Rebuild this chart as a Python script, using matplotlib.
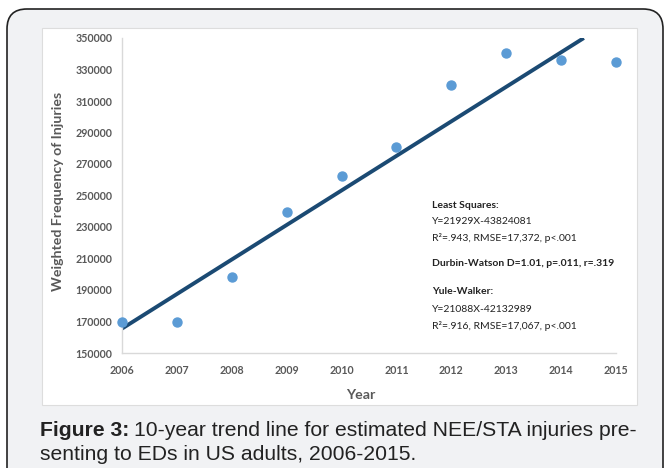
import matplotlib
matplotlib.use("Agg")
import matplotlib.pyplot as plt
from matplotlib.patches import FancyBboxPatch, Rectangle

# data
years = [2006, 2007, 2008, 2009, 2010, 2011, 2012, 2013, 2014, 2015]
injuries = [170000, 170000, 198500, 239500, 262500, 281000, 320000, 340300, 336000, 335000]
yticks = [150000, 170000, 190000, 210000, 230000, 250000, 270000, 290000, 310000, 330000, 350000]
slope = 21929
intercept = -43824081

W, H = 664, 468
fig = plt.figure(figsize=(W / 100, H / 100), dpi=100)
fig.patch.set_facecolor("white")

def fx(px):
    return px / W

def fy(py):
    return 1 - py / H

# outer rounded panel
box = FancyBboxPatch((fx(7), fy(490)), fx(656), (490 - 9) / H,
                     boxstyle="round,pad=0,rounding_size=0.03",
                     transform=fig.transFigure, facecolor="#f1f2f4",
                     edgecolor="#222222", linewidth=1.2, mutation_aspect=W / H,
                     zorder=-10)
fig.patches.append(box)
# white chart area
fig.patches.append(Rectangle((fx(42), fy(405)), fx(637 - 42), (405 - 28) / H,
                             transform=fig.transFigure, facecolor="white",
                             edgecolor="#dddddd", linewidth=0.8, zorder=-9))

ax = fig.add_axes([fx(122), fy(353), fx(616 - 122), (353 - 38) / H])
ax.set_facecolor("white")

# trend line from least squares equation, clipped at top of axis
x0, x1 = 2006, (350000 - intercept) / slope
ax.plot([x0, x1], [slope * x0 + intercept, slope * x1 + intercept],
        color="#1b4a73", linewidth=2.8, solid_capstyle="butt", zorder=2)
ax.scatter(years, injuries, s=42, color="#5b9bd5", zorder=3, clip_on=False)

ax.set_xlim(2006, 2015)
ax.set_ylim(150000, 350000)
ax.set_xticks(years)
ax.set_yticks(yticks)
tick_font = dict(family=["Lato", "DejaVu Sans"], size=7.7, weight="bold", color="#595959")
ax.set_xticklabels([str(y) for y in years], **tick_font)
ax.set_yticklabels([str(v) for v in yticks], **tick_font)
ax.tick_params(length=0, pad=7)
ax.tick_params(axis="x", pad=9)
for s in ["top", "right"]:
    ax.spines[s].set_visible(False)
for s in ["left", "bottom"]:
    ax.spines[s].set_color("#d9d9d9")
    ax.spines[s].set_linewidth(1.0)

lab_font = dict(family=["Lato", "DejaVu Sans"], size=10.2, weight="bold", color="#595959")
fig.text(fx(58), fy(191), "Weighted Frequency of Injuries", rotation=90,
         ha="center", va="center", **lab_font)
fig.text(fx(361), fy(395), "Year", ha="center", va="center", **lab_font)

# annotation block
ann = dict(family=["Lato", "DejaVu Sans"], size=7.5, color="#222222")
tx = fx(432)
fig.text(tx, fy(205), "Least Squares:", va="center", weight="bold", **ann)
fig.text(tx, fy(221), "Y=21929X-43824081", va="center", **ann)
fig.text(tx, fy(238), "R\u00b2=.943, RMSE=17,372, p<.001", va="center", **ann)
fig.text(tx, fy(263), "Durbin-Watson D=1.01, p=.011, r=.319", va="center", weight="bold", **ann)
fig.text(tx, fy(292), "Yule-Walker:", va="center", weight="bold", **ann)
fig.text(tx, fy(309), "Y=21088X-42132989", va="center", **ann)
fig.text(tx, fy(326), "R\u00b2=.916, RMSE=17,067, p<.001", va="center", **ann)

# caption
cap = dict(family=["Liberation Sans", "DejaVu Sans"], size=15.2, color="#222222")
t = fig.text(fx(40), fy(431), "Figure 3:", va="center", weight="bold", **cap)
fig.canvas.draw()
bb = t.get_window_extent()
fig.text(bb.x1 / W + 0.007, fy(431),
         "10-year trend line for estimated NEE/STA injuries pre-", va="center", **cap)
fig.text(fx(40), fy(454), "senting to EDs in US adults, 2006-2015.", va="center", **cap)

fig.savefig("out.png", dpi=100, facecolor="white")
